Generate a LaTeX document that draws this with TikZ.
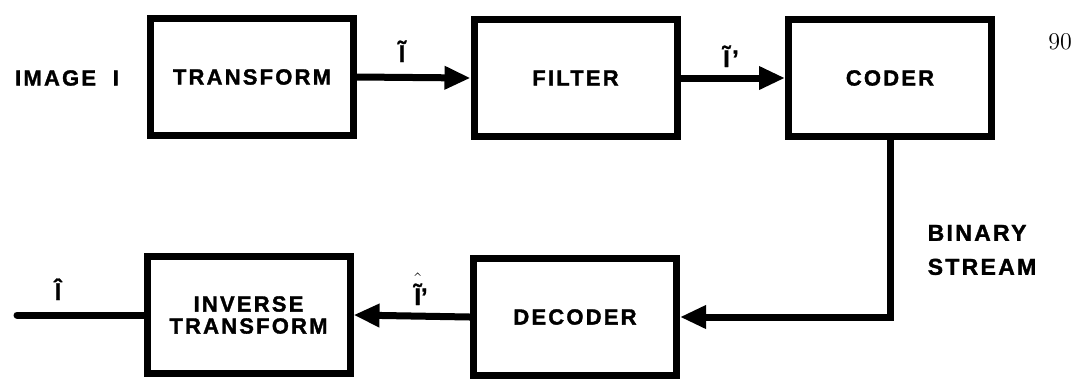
\documentclass[tikz,border=0pt]{standalone}
\usepackage{fontspec}
\setsansfont{Liberation Sans}[LetterSpace=10,FakeBold=1.5]
\usetikzlibrary{arrows.meta}
\begin{document}
\begin{tikzpicture}[x=0.5pt,y=-0.5pt,
  block/.style={draw=black,line width=3.5pt,minimum width=101.5pt,minimum height=58.5pt,
    font=\sffamily\bfseries\fontsize{11}{13}\selectfont,align=center,inner sep=0pt},
  lbl/.style={font=\sffamily\bfseries\fontsize{12}{14}\selectfont,inner sep=0pt},
  flow/.style={line width=3.5pt,-{Triangle[length=13pt,width=11pt]}},
  wire/.style={line width=3.5pt}]
\useasboundingbox (0,0) rectangle (1081,382);
\node[block] (transform) at (252,77) {TRANSFORM};
\node[block] (filter) at (575.5,78) {FILTER};
\node[block] (coder) at (890,78) {CODER};
\node[block] (inverse) at (248.5,315) {INVERSE\\[-2pt]TRANSFORM};
\node[block] (decoder) at (575,317) {DECODER};
\coordinate (out) at (17,315);
\node[font=\sffamily\bfseries\fontsize{11}{13}\selectfont,inner sep=0pt] (img) at (67,78) {IMAGE\ \ I};
\node[lbl,anchor=base] (lt1) at (402,62) {\~{I}};
\node[lbl,anchor=base] (lt2) at (731,67) {\~{I}'};
\node[lbl,anchor=base] (lt3) at (421,305) {$\hat{\mbox{\sffamily\bfseries\raisebox{0pt}[\dimexpr\height+2pt]{\~{I}}}}$'};
\node[lbl,anchor=base] (lt4) at (58,300) {\^{I}};
\node[font=\rmfamily\fontsize{12}{14}\selectfont,inner sep=0pt] (pg) at (1060,42) {90};
\node[align=left,inner sep=0pt,font=\sffamily\bfseries\fontsize{11.5}{17}\selectfont] (bs) at (982,250) {BINARY\\STREAM};
\draw[flow] (transform.east) -- (filter.west);
\draw[flow] (filter.east) -- (coder.west);
\draw[flow] (coder.south) |- (decoder.east);
\draw[flow] (decoder.west) -- (inverse.east);
\draw[wire,line cap=round] (inverse.west) -- (out);
\end{tikzpicture}
\end{document}
